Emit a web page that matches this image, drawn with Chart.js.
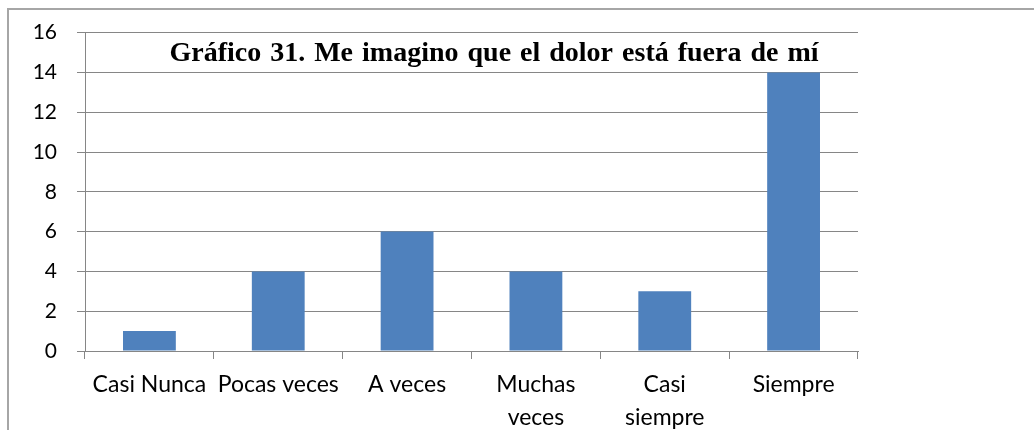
<!DOCTYPE html>
<html>
<head>
<meta charset="utf-8">
<script src="https://cdn.jsdelivr.net/npm/chart.js@4"></script>
<style>
  html, body { margin: 0; padding: 0; background: #fff; }
  #wrap { position: relative; width: 1034px; height: 430px; overflow: hidden; }
  #frame { position: absolute; left: 7px; top: 8px; width: 1100px; height: 500px; border: 2px solid #a6a6a6; box-sizing: border-box; }
  canvas { position: absolute; left: 0; top: 0; }
</style>
</head>
<body>
<div id="wrap">
  <div id="frame"></div>
  <canvas id="chart" width="1034" height="430"></canvas>
</div>
<script>
// Values
const categories = [['Casi Nunca'], ['Pocas veces'], ['A veces'], ['Muchas', 'veces'], ['Casi', 'siempre'], ['Siempre']];
const counts = [1, 4, 6, 4, 3, 14];
const chartTitle = 'Gráfico 31. Me imagino que el dolor está fuera de mí';

const gridColor = '#868686';
const labelFont = 'Lato, "Open Sans", sans-serif';

// title sits inside the plot area, between the 16 and 14 grid lines
const innerTitle = {
    id: 'innerTitle',
    afterDraw(chart) {
        const { ctx, scales } = chart;
        const y = (scales.y.getPixelForValue(16) + scales.y.getPixelForValue(14)) / 2;
        ctx.save();
        ctx.font = 'bold 28px "Liberation Serif", "Times New Roman", serif';
        if ('wordSpacing' in ctx) ctx.wordSpacing = '2px';
        ctx.fillStyle = '#000';
        ctx.textAlign = 'center';
        ctx.textBaseline = 'middle';
        ctx.fillText(chartTitle, 494, y + 1);
        ctx.restore();
    }
};

const ctx = document.getElementById('chart').getContext('2d');
new Chart(ctx, {
    type: 'bar',
    data: {
        labels: categories,
        datasets: [{
            data: counts,
            backgroundColor: '#4F81BD',
            categoryPercentage: 1,
            barPercentage: 0.41
        }]
    },
    options: {
        responsive: false,
        animation: false,
        layout: { padding: { left: 0, right: 176, top: 32, bottom: 0 } },
        plugins: {
            legend: { display: false },
            tooltip: { enabled: false }
        },
        scales: {
            x: {
                grid: { offset: true, drawOnChartArea: false, drawTicks: true, tickLength: 8, color: gridColor },
                border: { display: true, color: gridColor, width: 1 },
                ticks: {
                    color: '#000',
                    font: { family: labelFont, size: 23, lineHeight: 1.43 },
                    padding: 9,
                    maxRotation: 0,
                    autoSkip: false
                },
                afterFit(scale) { scale.height = 79; }
            },
            y: {
                min: 0,
                max: 16,
                ticks: {
                    stepSize: 2,
                    color: '#000',
                    font: { family: labelFont, size: 21 },
                    padding: 20
                },
                grid: { color: gridColor, tickLength: 8, drawTicks: true },
                border: { display: true, color: gridColor, width: 1 },
                afterFit(scale) { scale.width = 85; }
            }
        }
    },
    plugins: [innerTitle]
});
</script>
</body>
</html>
